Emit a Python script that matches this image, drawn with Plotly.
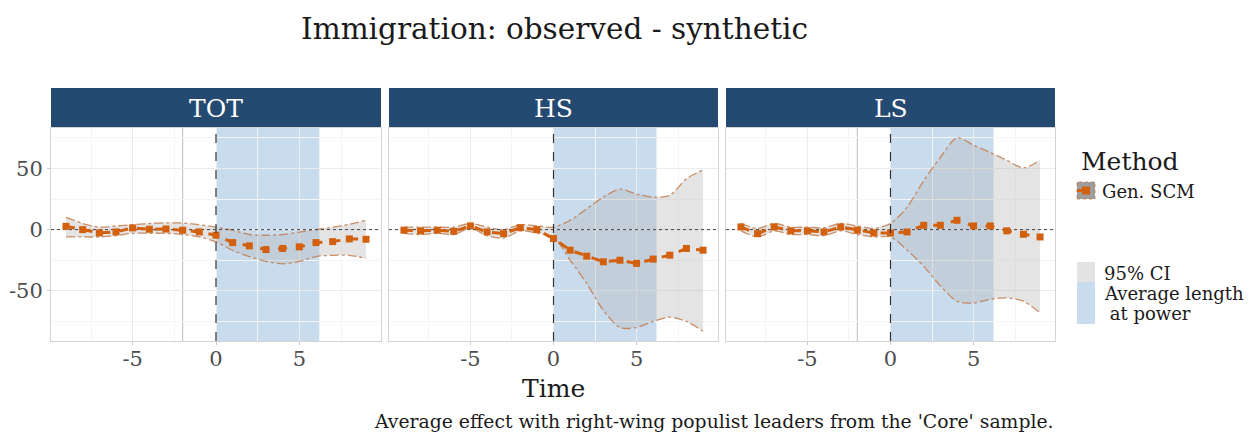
import plotly.graph_objects as go

# ---------------- data ----------------
time = [-9, -8, -7, -6, -5, -4, -3, -2, -1, 0, 1, 2, 3, 4, 5, 6, 7, 8, 9]
panels = ["TOT", "HS", "LS"]

tot_est = [2.7, 0.0, -2.7, -1.9, 1.4, 0.3, 0.5, -0.5, -1.9, -4.6, -10.6, -13.3, -16.3, -15.4, -14.1, -10.6, -9.8, -7.6, -7.9]
tot_up = [10, 5, 2, 3, 4, 5, 5.5, 5.4, 4, 2, -0.5, -4, -4.6, -4, -2, 0, 2, 4.3, 7.6]
tot_lo = [-6, -6, -6, -5, -3, -3, -3, -4, -6, -10, -17, -22, -26, -28, -26, -22, -21, -21, -23.6]

hs_est = [-0.5, -1.0, -0.5, -1.4, 3.0, -1.9, -3.3, 1.6, 0.0, -7.3, -16.8, -21.7, -26.3, -25.0, -27.6, -24.1, -20.9, -15.4, -16.8]
hs_up = [2, 2, 2, 2, 5, 2, 0, 4, 3, 2, 7.6, 17, 26.6, 33, 29, 26.6, 28, 41.5, 48.8]
hs_lo = [-3, -4, -3, -4, 1, -5, -7, -1, -3, -6, -25, -44, -66, -80, -80, -75, -71.5, -75, -83]

ls_est = [2.2, -3.3, 2.2, -1.0, -1.0, -1.9, 2.2, -0.5, -2.7, -2.7, -1.9, 3.5, 3.5, 7.6, 3.0, 3.0, -1.0, -3.8, -6.0]
ls_up = [5, 1, 5, 2, 2, 1.5, 5, 3, 1, 5, 18.4, 40, 59, 75, 69, 63, 56.6, 50.4, 56.6]
ls_lo = [-1, -6, -1, -4, -4, -5, -1, -4, -6, -6, -16.8, -30, -46, -58.5, -60, -57, -55.8, -58.5, -68]

estimates = {"TOT": tot_est, "HS": hs_est, "LS": ls_est}
uppers = {"TOT": tot_up, "HS": hs_up, "LS": ls_up}
lowers = {"TOT": tot_lo, "HS": hs_lo, "LS": ls_lo}

avg_length = 6.2
ref_line_x = -2

x_ticks = [-5, 0, 5]
y_ticks = [-50, 0, 50]

# ---------------- style ----------------
W, H = 1255, 433
FONT = "DejaVu Serif"
ORANGE = "#D2600E"
STRIP = "#244A72"
BLUE = "#C9DCEE"
RIB_LINE = "rgba(195,125,80,0.85)"
RIB_FILL = "rgba(185,185,185,0.38)"
TXT = "#1a1a1a"

panel_px = [(51, 381), (389, 718), (726, 1055)]
top_px, bot_px = 128, 341
strip_top = 88


def px_x(p):
    return p / W


def px_y(p):
    return 1 - p / H


fig = go.Figure()
shapes = []
annotations = []

for i, name in enumerate(panels):
    k = "" if i == 0 else str(i + 1)
    xa, ya = "x" + k, "y" + k
    # ribbon
    fig.add_trace(go.Scatter(x=time, y=lowers[name], mode="lines", xaxis=xa, yaxis=ya,
                             line=dict(color=RIB_LINE, width=1.3, dash="dashdot", shape="spline", smoothing=0.8),
                             showlegend=False, hoverinfo="skip"))
    fig.add_trace(go.Scatter(x=time, y=uppers[name], mode="lines", xaxis=xa, yaxis=ya,
                             line=dict(color=RIB_LINE, width=1.3, dash="dashdot", shape="spline", smoothing=0.8),
                             fill="tonexty", fillcolor=RIB_FILL,
                             showlegend=False, hoverinfo="skip"))
    # zero line
    fig.add_trace(go.Scatter(x=[-9.9, 9.9], y=[0, 0], mode="lines", xaxis=xa, yaxis=ya,
                             line=dict(color="#444444", width=1, dash="dot"),
                             showlegend=False, hoverinfo="skip"))
    # estimate
    fig.add_trace(go.Scatter(x=time, y=estimates[name], mode="lines+markers", xaxis=xa, yaxis=ya,
                             line=dict(color=ORANGE, width=3, dash="dash"),
                             marker=dict(symbol="square", size=7, color=ORANGE),
                             showlegend=False))

    x0, x1 = panel_px[i]
    dom = [px_x(x0), px_x(x1)]
    fig.update_layout(**{
        "xaxis" + k: dict(domain=dom, anchor=ya, range=[-9.9, 9.9], tickvals=x_ticks,
                          ticktext=[str(v) for v in x_ticks], showgrid=True, gridcolor="#EBEBEB",
                          gridwidth=1, zeroline=False, showline=True, linecolor="#D3D3D3", mirror=True,
                          ticks="outside", ticklen=3, tickcolor="#CCCCCC", ticklabelstandoff=-4,
                          tickfont=dict(family=FONT, size=21, color="#4D4D4D"),
                          minor=dict(tickvals=[-7.5, -2.5, 2.5, 7.5], showgrid=True, gridcolor="#F5F5F5", ticks=""),
                          fixedrange=True),
        "yaxis" + k: dict(domain=[px_y(bot_px), px_y(top_px)], anchor=xa, range=[-91, 83],
                          tickvals=y_ticks, ticktext=[str(v) for v in y_ticks],
                          showticklabels=(i == 0), showgrid=True, gridcolor="#EBEBEB", zeroline=False,
                          showline=True, linecolor="#D3D3D3", mirror=True,
                          ticks="outside" if i == 0 else "", ticklen=3, tickcolor="#CCCCCC",
                          tickfont=dict(family=FONT, size=21, color="#4D4D4D"),
                          minor=dict(tickvals=[-75, -25, 25, 75], showgrid=True, gridcolor="#F5F5F5", ticks=""),
                          fixedrange=True),
    })
    # average length at power region
    shapes.append(dict(type="rect", xref=xa, yref=ya + " domain", x0=0, x1=avg_length, y0=0, y1=1,
                       fillcolor=BLUE, line=dict(width=0), layer="below"))
    # treatment line
    shapes.append(dict(type="line", xref=xa, yref=ya + " domain", x0=0, x1=0, y0=0, y1=1,
                       line=dict(color="#333333", width=1.2, dash="dash")))
    if name != "HS":
        shapes.append(dict(type="line", xref=xa, yref=ya + " domain", x0=ref_line_x, x1=ref_line_x, y0=0, y1=1,
                           line=dict(color="#BDBDBD", width=1), layer="below"))
    # strip
    shapes.append(dict(type="rect", xref="paper", yref="paper", x0=px_x(x0), x1=px_x(x1),
                       y0=px_y(top_px - 1), y1=px_y(strip_top), fillcolor=STRIP, line=dict(width=0)))
    annotations.append(dict(text=name, xref="paper", yref="paper", x=px_x((x0 + x1) / 2),
                            y=px_y((strip_top + top_px) / 2), showarrow=False, xanchor="center", yanchor="middle",
                            font=dict(family=FONT, size=25, color="white")))

# titles
annotations.append(dict(text="Immigration: observed - synthetic", xref="paper", yref="paper",
                        x=px_x(554), y=px_y(29), showarrow=False, xanchor="center", yanchor="middle",
                        font=dict(family=FONT, size=29.5, color=TXT)))
annotations.append(dict(text="Time", xref="paper", yref="paper", x=px_x(553), y=px_y(388),
                        showarrow=False, xanchor="center", yanchor="middle",
                        font=dict(family=FONT, size=25, color=TXT)))
annotations.append(dict(text="Average effect with right-wing populist leaders from the 'Core' sample.",
                        xref="paper", yref="paper", x=px_x(1056), y=px_y(421), showarrow=False,
                        xanchor="right", yanchor="middle", font=dict(family=FONT, size=18.8, color=TXT)))

# legend (manual)
annotations.append(dict(text="Method", xref="paper", yref="paper", x=px_x(1079), y=px_y(161),
                        showarrow=False, xanchor="left", yanchor="middle",
                        font=dict(family=FONT, size=25, color=TXT)))
shapes.append(dict(type="rect", xref="paper", yref="paper", x0=px_x(1077), x1=px_x(1095),
                   y0=px_y(199), y1=px_y(182), fillcolor="#9E9E9E", line=dict(color=RIB_LINE, width=1, dash="dot")))
shapes.append(dict(type="line", xref="paper", yref="paper", x0=px_x(1077), x1=px_x(1095),
                   y0=px_y(190.5), y1=px_y(190.5), line=dict(color=ORANGE, width=3, dash="dash")))
shapes.append(dict(type="rect", xref="paper", yref="paper", x0=px_x(1082), x1=px_x(1090),
                   y0=px_y(194.5), y1=px_y(186.5), fillcolor=ORANGE, line=dict(width=0)))
annotations.append(dict(text="Gen. SCM", xref="paper", yref="paper", x=px_x(1100), y=px_y(191),
                        showarrow=False, xanchor="left", yanchor="middle",
                        font=dict(family=FONT, size=18, color=TXT)))
shapes.append(dict(type="rect", xref="paper", yref="paper", x0=px_x(1077), x1=px_x(1095),
                   y0=px_y(282), y1=px_y(262), fillcolor="#E3E3E3", line=dict(width=0)))
shapes.append(dict(type="rect", xref="paper", yref="paper", x0=px_x(1077), x1=px_x(1095),
                   y0=px_y(324), y1=px_y(282), fillcolor=BLUE, line=dict(width=0)))
annotations.append(dict(text="95% CI", xref="paper", yref="paper", x=px_x(1102), y=px_y(273),
                        showarrow=False, xanchor="left", yanchor="middle",
                        font=dict(family=FONT, size=18, color=TXT)))
annotations.append(dict(text="Average length", xref="paper", yref="paper", x=px_x(1102),
                        y=px_y(293), showarrow=False, xanchor="left", yanchor="middle",
                        font=dict(family=FONT, size=18, color=TXT)))
annotations.append(dict(text=" at power", xref="paper", yref="paper", x=px_x(1102),
                        y=px_y(313), showarrow=False, xanchor="left", yanchor="middle",
                        font=dict(family=FONT, size=18, color=TXT)))

fig.update_layout(width=W, height=H, margin=dict(l=0, r=0, t=0, b=0), paper_bgcolor="white",
                  plot_bgcolor="white", shapes=shapes, annotations=annotations, showlegend=False)

fig.write_html("out.html", config={"displayModeBar": False})
